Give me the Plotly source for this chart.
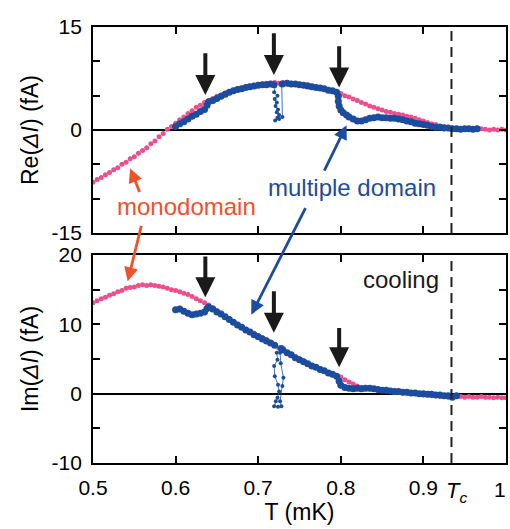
import plotly.graph_objects as go
from plotly.subplots import make_subplots

# ---------------- data ----------------
# Re(ΔI), monodomain sample (fA) on a 0.005 mK grid from 0.50 to 1.00
T_MONO = [round(0.5 + 0.005 * i, 3) for i in range(101)]
RE_MONO = [-7.6, -7.2, -6.9, -6.5, -6.2, -5.8, -5.5, -5.0, -4.7, -4.2,
           -3.9, -3.4, -3.0, -2.6, -2.0, -1.6, -1.0, -0.5, 0.1, 0.5,
           1.0, 1.5, 1.9, 2.4, 2.8, 3.3, 3.6, 4.0, 4.3, 4.6,
           4.9, 5.1, 5.4, 5.6, 5.8, 6.0, 6.1, 6.3, 6.4, 6.5,
           6.6, 6.7, 6.8, 6.8, 6.9, 6.8, 6.9, 6.8, 6.8, 6.7,
           6.7, 6.6, 6.6, 6.4, 6.3, 6.2, 6.0, 5.9, 5.7, 5.5,
           5.3, 5.0, 4.8, 4.5, 4.3, 4.0, 3.8, 3.5, 3.3, 3.1,
           2.9, 2.7, 2.6, 2.4, 2.3, 2.2, 2.0, 1.9, 1.7, 1.5,
           1.3, 1.1, 0.9, 0.8, 0.6, 0.5, 0.4, 0.3, 0.2, 0.2,
           0.1, 0.2, 0.1, 0.1, 0.2, 0.1, 0.0, 0.1, 0.0, 0.1,
           0.0]
# Im(ΔI), monodomain sample (fA)
IM_MONO = [13.1, 13.4, 13.7, 13.9, 14.2, 14.4, 14.7, 14.9, 15.2, 15.3,
           15.4, 15.6, 15.7, 15.6, 15.7, 15.6, 15.5, 15.4, 15.2, 15.0,
           14.9, 14.7, 14.5, 14.3, 14.0, 13.7, 13.4, 13.1, 12.8, 12.4,
           12.0, 11.6, 11.1, 10.7, 10.3, 10.0, 9.6, 9.3, 9.0, 8.7,
           8.4, 8.1, 7.8, 7.4, 7.0, 6.6, 6.3, 5.9, 5.6, 5.3,
           5.0, 4.7, 4.4, 4.1, 3.9, 3.6, 3.3, 3.1, 2.8, 2.6,
           2.4, 2.0, 1.7, 1.4, 1.1, 0.9, 0.8, 0.7, 0.6, 0.5,
           0.5, 0.4, 0.3, 0.2, 0.2, 0.1, 0.1, 0.0, 0.0, -0.1,
           -0.2, -0.2, -0.3, -0.3, -0.4, -0.4, -0.5, -0.5, -0.4, -0.4,
           -0.5, -0.4, -0.5, -0.5, -0.4, -0.5, -0.5, -0.6, -0.5, -0.6,
           -0.6]

# Re(ΔI), multiple-domain sample (fA)
T_MULTI_RE = [0.600, 0.605, 0.610, 0.615, 0.620, 0.625, 0.630, 0.635, 0.638, 0.640,
              0.645, 0.650, 0.655, 0.660, 0.665, 0.670, 0.675, 0.680, 0.685, 0.690,
              0.695, 0.700, 0.705, 0.710, 0.715, 0.719,
              0.729, 0.735, 0.740, 0.745, 0.750, 0.755, 0.760, 0.765, 0.770, 0.775,
              0.780, 0.785, 0.790, 0.795, 0.797, 0.797, 0.798, 0.800, 0.803, 0.807,
              0.810, 0.815, 0.820, 0.825, 0.830, 0.835, 0.840, 0.845, 0.850, 0.855,
              0.860, 0.865, 0.870, 0.875, 0.880, 0.885, 0.890, 0.895, 0.900, 0.905,
              0.910, 0.915, 0.920, 0.925, 0.930, 0.935, 0.940, 0.945, 0.950, 0.955,
              0.960, 0.965]
RE_MULTI = [0.5, 0.9, 1.2, 1.6, 2.0, 2.3, 2.7, 3.0, 3.6, 4.1,
            4.3, 4.6, 4.9, 5.2, 5.5, 5.7, 5.9, 6.0, 6.2, 6.3,
            6.4, 6.5, 6.6, 6.6, 6.7, 6.6,
            6.7, 6.8, 6.7, 6.7, 6.6, 6.5, 6.4, 6.3, 6.2, 6.1,
            6.0, 5.8, 5.7, 5.5, 4.9, 4.2, 3.5, 2.9, 2.5, 2.2,
            1.9, 1.6, 1.3, 1.3, 1.5, 1.7, 1.8, 1.9, 1.8, 1.8,
            1.7, 1.7, 1.6, 1.5, 1.3, 1.2, 1.0, 0.9, 0.8, 0.7,
            0.5, 0.4, 0.4, 0.3, 0.3, 0.2, 0.2, 0.1, 0.2, 0.2,
            0.1, 0.2]
# excursion of the multiple-domain signal near 0.72 mK (sequential readings)
T_JUMP_RE = [0.7190, 0.7205, 0.7193, 0.7233, 0.7200, 0.7225, 0.7210, 0.7240,
             0.7225, 0.7253, 0.7233, 0.7205, 0.7253, 0.7293, 0.7285]
RE_JUMP = [6.6, 6.4, 5.5, 5.0, 4.5, 4.0, 3.5, 3.0,
           2.6, 2.2, 1.8, 1.4, 1.6, 1.9, 6.5]

# Im(ΔI), multiple-domain sample (fA)
T_MULTI_IM = [0.600, 0.605, 0.610, 0.615, 0.620, 0.625, 0.630, 0.635, 0.638, 0.640,
              0.645, 0.650, 0.655, 0.660, 0.665, 0.670, 0.675, 0.680, 0.685, 0.690,
              0.695, 0.700, 0.705, 0.710, 0.715, 0.720,
              0.728, 0.730, 0.735, 0.740, 0.745, 0.750, 0.755, 0.760, 0.765, 0.770,
              0.775, 0.780, 0.785, 0.790, 0.795, 0.798, 0.800, 0.805, 0.810, 0.815,
              0.820, 0.825, 0.830, 0.835, 0.840, 0.845, 0.850, 0.855, 0.860, 0.865,
              0.870, 0.875, 0.880, 0.885, 0.890, 0.895, 0.900, 0.905, 0.910, 0.915,
              0.920, 0.925, 0.930, 0.935, 0.940]
IM_MULTI = [12.1, 12.2, 11.9, 11.6, 11.4, 11.5, 11.6, 11.8, 12.3, 12.5,
            12.2, 11.8, 11.5, 11.1, 10.7, 10.3, 9.9, 9.6, 9.2, 8.9,
            8.5, 8.2, 7.9, 7.6, 7.3, 7.0,
            6.5, 6.3, 5.9, 5.6, 5.2, 4.9, 4.6, 4.3, 4.0, 3.8,
            3.5, 3.3, 3.0, 2.8, 2.5, 1.8, 1.2, 0.9, 0.8, 0.7,
            0.8, 0.7, 0.8, 0.8, 0.7, 0.6, 0.5, 0.5, 0.4, 0.3,
            0.3, 0.2, 0.2, 0.1, 0.1, 0.0, 0.0, -0.1, -0.1, -0.2,
            -0.2, -0.3, -0.3, -0.5, -0.3]
T_JUMP_IM = [0.7225, 0.7233, 0.7193, 0.7201, 0.7240, 0.7253, 0.7233, 0.7213,
             0.7193, 0.7240, 0.7281, 0.7265, 0.7293, 0.7305, 0.7273, 0.7265]
IM_JUMP = [5.9, 4.9, 4.0, 2.5, 1.3, 0.3, -0.6, -1.1,
           -1.8, -1.9, -1.8, -1.1, 1.1, 2.3, 4.4, 5.9]

# transition temperature and marked anomalies
T_C = 0.934
ARROW_T = [0.636, 0.719, 0.798]
RE_ARROW = [(11.4, 5.1), (14.3, 8.0), (12.4, 6.2)]     # (tail, tip)
IM_ARROW = [(20.0, 13.9), (15.0, 8.8), (9.7, 3.8)]

X_TICKS = [0.5, 0.6, 0.7, 0.8, 0.9, 1.0]
X_TICK_TEXT = ["0.5", "0.6", "0.7", "0.8", "0.9", "1"]
RE_TICKS = [-15, -10, -5, 0, 5, 10, 15]
RE_TICK_TEXT = ["-15", "", "", "0", "", "", "15"]
IM_TICKS = [-10, -5, 0, 5, 10, 15, 20]
IM_TICK_TEXT = ["-10", "", "0", "", "10", "", "20"]

# ---------------- style ----------------
PINK = "#ee4f8c"
BLUE = "#1c4c9e"
ORANGE = "#f1502a"
FONT = "Liberation Sans, Arial, sans-serif"
FS = 21
FS_TITLE = 23

fig = make_subplots(rows=2, cols=1)

for row, (tm, ym, tb, yb, tj, yj) in enumerate(
        [(T_MONO, RE_MONO, T_MULTI_RE, RE_MULTI, T_JUMP_RE, RE_JUMP),
         (T_MONO, IM_MONO, T_MULTI_IM, IM_MULTI, T_JUMP_IM, IM_JUMP)], start=1):
    fig.add_trace(go.Scatter(x=tm, y=ym, mode="markers",
                             marker=dict(color=PINK, size=5, line=dict(width=0)),
                             showlegend=False), row=row, col=1)
    fig.add_trace(go.Scatter(x=tb, y=yb, mode="markers",
                             marker=dict(color=BLUE, size=7, line=dict(width=0)),
                             showlegend=False), row=row, col=1)
    fig.add_trace(go.Scatter(x=tj, y=yj, mode="lines+markers",
                             line=dict(color=BLUE, width=0.8),
                             marker=dict(color=BLUE, size=4),
                             showlegend=False), row=row, col=1)

axis_common = dict(showline=True, linecolor="black", linewidth=1.8, mirror="allticks",
                   ticks="inside", ticklen=7, tickwidth=1.6, tickcolor="black",
                   showgrid=False, tickfont=dict(family=FONT, size=FS, color="black"))

fig.update_xaxes(range=[0.5, 1.0], tickvals=X_TICKS, ticktext=X_TICK_TEXT,
                 zeroline=False, **axis_common)
fig.update_xaxes(showticklabels=False, row=1, col=1)
fig.update_xaxes(ticklabelstandoff=5, row=2, col=1,
                 title=dict(text="T (mK)", font=dict(family=FONT, size=FS_TITLE, color="black"),
                            standoff=2))

fig.update_yaxes(range=[-15, 15], tickvals=RE_TICKS, ticktext=RE_TICK_TEXT,
                 zeroline=True, zerolinecolor="black", zerolinewidth=2.2,
                 ticklabelstandoff=5, domain=[0.5275, 1.0],
                 title=dict(text="Re(<i>ΔI</i>) (fA)",
                            font=dict(family=FONT, size=FS_TITLE, color="black"), standoff=6),
                 row=1, col=1, **axis_common)
fig.update_yaxes(range=[-10, 20], tickvals=IM_TICKS, ticktext=IM_TICK_TEXT,
                 zeroline=True, zerolinecolor="black", zerolinewidth=2.2,
                 ticklabelstandoff=5, domain=[0.0, 0.477],
                 title=dict(text="Im(<i>ΔI</i>) (fA)",
                            font=dict(family=FONT, size=FS_TITLE, color="black"), standoff=6),
                 row=2, col=1, **axis_common)

# dashed line at Tc through both panels
for xref, yref in (("x", "y domain"), ("x2", "y2 domain")):
    fig.add_shape(type="line", xref=xref, yref=yref,
                  x0=T_C, x1=T_C, y0=0, y1=1,
                  line=dict(color="#222222", width=2, dash="10px,6px"))

ann = []
# black arrows marking the anomalies
for t, (a, b) in zip(ARROW_T, RE_ARROW):
    ann.append(dict(x=t, y=b, ax=t, ay=a, xref="x", yref="y", axref="x", ayref="y",
                    text="", showarrow=True, arrowhead=2, arrowsize=1,
                    arrowwidth=4, arrowcolor="#1a1a1a"))
for t, (a, b) in zip(ARROW_T, IM_ARROW):
    ann.append(dict(x=t, y=b, ax=t, ay=a, xref="x2", yref="y2", axref="x2", ayref="y2",
                    text="", showarrow=True, arrowhead=2, arrowsize=1,
                    arrowwidth=4, arrowcolor="#1a1a1a"))

# labels
ann.append(dict(x=0.613, y=-11.2, xref="x", yref="y", text="monodomain", showarrow=False,
                font=dict(family=FONT, size=24, color=ORANGE)))
ann.append(dict(x=0.8133, y=-8.3, xref="x", yref="y", text="multiple domain", showarrow=False,
                font=dict(family=FONT, size=24, color=BLUE)))
ann.append(dict(x=0.873, y=16.5, xref="x2", yref="y2", text="cooling", showarrow=False,
                font=dict(family=FONT, size=24, color="#1a1a1a")))

# pointer arrows from the labels to the curves
ann.append(dict(x=0.545, y=-5.6, xref="x", yref="y", ax=10, ay=25, text="",
                showarrow=True, arrowhead=2, arrowsize=1, arrowwidth=2.8, arrowcolor=ORANGE))
ann.append(dict(x=0.542, y=16.2, xref="x2", yref="y2", ax=14, ay=-57, text="",
                showarrow=True, arrowhead=2, arrowsize=1, arrowwidth=2.8, arrowcolor=ORANGE))
ann.append(dict(x=0.807, y=0.7, xref="x", yref="y", ax=-23, ay=47, text="",
                showarrow=True, arrowhead=2, arrowsize=1, arrowwidth=2.8, arrowcolor=BLUE))
ann.append(dict(x=0.6916, y=11.4, xref="x2", yref="y2", ax=55, ay=-108, text="",
                showarrow=True, arrowhead=2, arrowsize=1, arrowwidth=2.8, arrowcolor=BLUE))

# Tc label next to the tick labels, and the end label at 1 kept inside the page edge
ann.append(dict(x=T_C, y=-0.03, xref="x2", yref="paper", yanchor="top", xshift=5,
                text="<i>T<sub>c</sub></i>", showarrow=False,
                font=dict(family=FONT, size=FS + 1, color="black")))
ann.append(dict(x=1.0, y=-0.03, xref="x2", yref="paper", yanchor="top", xanchor="right",
                xshift=2, text="1", showarrow=False,
                font=dict(family=FONT, size=FS, color="black")))

fig.update_layout(width=510, height=529, margin=dict(l=93, r=2, t=27, b=66),
                  paper_bgcolor="white", plot_bgcolor="white", annotations=ann,
                  showlegend=False)

fig.write_html("out.html")
